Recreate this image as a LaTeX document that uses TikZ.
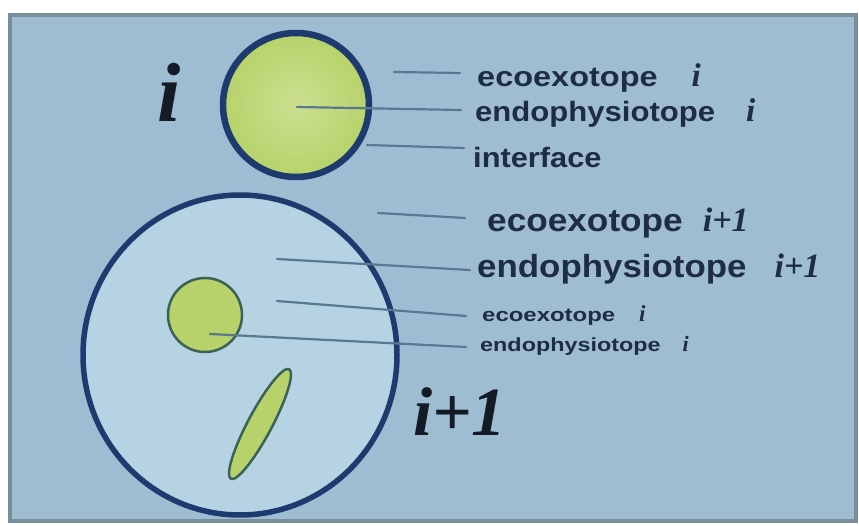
\documentclass[tikz,border=0pt]{standalone}
\usepackage{fontspec}
\usepackage{graphicx}
\setmainfont{Liberation Sans}
\newfontfamily\serf{Liberation Serif}
\definecolor{panelfill}{HTML}{9EBDD3}
\definecolor{panelborder}{HTML}{7A8D9A}
\definecolor{bigfill}{HTML}{B5D3E3}
\definecolor{navy}{HTML}{1D3B6E}
\definecolor{greenfill}{HTML}{B7D26A}
\definecolor{greenlight}{HTML}{CCE091}
\definecolor{greenedge}{HTML}{3A6355}
\definecolor{leadc}{HTML}{5A7890}
\definecolor{txtc}{HTML}{1E2C44}
\definecolor{bigtxt}{HTML}{141B27}
\newcommand{\fs}[1]{\fontsize{#1}{#1}\selectfont}
\newcommand{\itl}[2]{{\serf\bfseries\itshape\fs{#1}#2}}
\begin{document}
\begin{tikzpicture}[x=1pt,y=-1pt,
  leader/.style={draw=leadc, line width=2.2pt, line cap=round},
  lab/.style={anchor=base west, inner sep=0pt, text=txtc, font=\bfseries},
  biglab/.style={anchor=base west, inner sep=0pt, text=bigtxt},
  outer/.style={draw=navy, line width=5.5pt},
  inner/.style={draw=greenedge, line width=2.5pt, fill=greenfill}]
\useasboundingbox (0,0) rectangle (859,526);
\fill[white] (0,0) rectangle (859,526);
\draw[fill=panelfill, draw=panelborder, line width=4pt] (10,15) rectangle (856,521);

% big cell i+1
\draw[outer, fill=bigfill] (240,355) ellipse [x radius=157pt, y radius=160pt];
\draw[inner] (205,315) circle (37pt);
\draw[inner, rotate around={62:(260,424)}] (260,424) ellipse [x radius=62pt, y radius=12pt];

% small cell i
\shade[inner color=greenlight, outer color=greenfill] (296,105) ellipse [x radius=73pt, y radius=72pt];
\draw[outer, line width=6.5pt] (296,105) ellipse [x radius=73pt, y radius=72pt];

% big labels
\node[biglab, font=\serf\bfseries\itshape\fs{84}] (li) at (157,122) {i};
\node[biglab, font=\serf\bfseries\itshape\fs{69}] (lii) at (413,435) {i+1};

% text labels
\node[lab, font=\bfseries\fs{28}] (t1) at (477,87) {\scalebox{1.16}[1]{ecoexotope}\hspace{34pt}\itl{33}{i}};
\node[lab, font=\bfseries\fs{28}] (t2) at (475,122) {\scalebox{1.11}[1]{endophysiotope}\hspace{31pt}\itl{33}{i}};
\node[lab, font=\bfseries\fs{28}] (t3) at (473,168) {\scalebox{1.10}[1]{interface}};
\node[lab, font=\bfseries\fs{32}] (t4) at (487,232) {\scalebox{1.10}[1]{ecoexotope}\hspace{20pt}\itl{34}{i+1}};
\node[lab, font=\bfseries\fs{32}] (t5) at (477,278) {\scalebox{1.09}[1]{endophysiotope}\hspace{28pt}\itl{34}{i+1}};
\node[lab, font=\bfseries\fs{19}] (t6) at (482,322) {\scalebox{1.26}[1]{ecoexotope}\hspace{24pt}\itl{23}{i}};
\node[lab, font=\bfseries\fs{19}] (t7) at (480,352) {\scalebox{1.23}[1]{endophysiotope}\hspace{22pt}\itl{22}{i}};

% leader line ends
\coordinate (s1) at (394,72);  \coordinate (e1) at (460,73);
\coordinate (s2) at (297,107); \coordinate (e2) at (461,110);
\coordinate (s3) at (367,145); \coordinate (e3) at (464,148);
\coordinate (s4) at (378,213); \coordinate (e4) at (465,218);
\coordinate (s5) at (277,259); \coordinate (e5) at (470,270);
\coordinate (s6) at (277,301); \coordinate (e6) at (466,316);
\coordinate (s7) at (210,334); \coordinate (e7) at (466,347);
\foreach \k in {1,...,7} {\draw[leader] (s\k) -- (e\k);}
\end{tikzpicture}
\end{document}
